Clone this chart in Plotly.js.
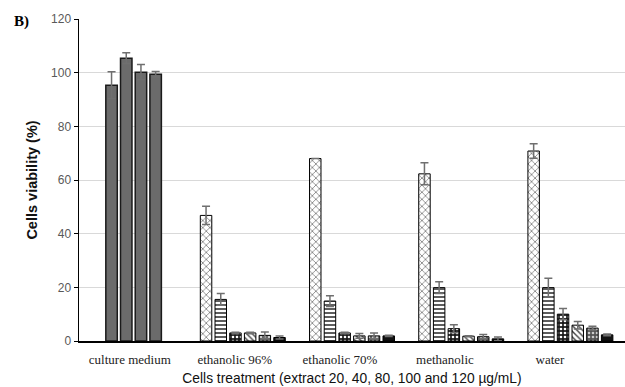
<!DOCTYPE html>
<html>
<head>
<meta charset="utf-8">
<script src="https://cdn.plot.ly/plotly-3.0.1.min.js"></script>
<style>html,body{margin:0;padding:0;background:#fff;}#chart{width:625px;height:387px;}</style>
</head>
<body>
<div id="chart"></div>
<script>
// ---- data ----
const categories = ["culture medium", "ethanolic 96%", "ethanolic 70%", "methanolic", "water"];
const controlValues = [95.3, 105.4, 100.2, 99.4];
const controlErrors = [5.0, 2.0, 2.8, 1.0];
// extract series (across the 4 extract categories)
const s1Values = [46.8, 68.0, 62.3, 70.8];
const s1Errors = [3.4, 0.0, 4.1, 2.7];
const s2Values = [15.5, 14.9, 19.9, 19.9];
const s2Errors = [2.2, 2.0, 2.2, 3.5];
const s3Values = [3.0, 3.0, 4.6, 10.0];
const s3Errors = [0.3, 0.3, 1.5, 2.1];
const s4Values = [3.0, 1.9, 1.8, 5.9];
const s4Errors = [0.3, 0.9, 0.2, 1.4];
const s5Values = [2.1, 1.9, 1.6, 4.8];
const s5Errors = [1.3, 1.1, 0.8, 0.7];
const s6Values = [1.3, 1.9, 0.8, 2.3];
const s6Errors = [0.6, 0.2, 0.7, 0.3];
const yTicks = [0, 20, 40, 60, 80, 100, 120];

// ---- layout helpers ----
const SLOT = 0.1346, BARW = 0.105;
const errStyle = {color: '#6f6f6f', thickness: 1.5, width: 4};
const lineStyle = {color: '#000', width: 1};

const traces = [];
controlValues.forEach((v, k) => {
  traces.push({
    type: 'bar', x: [0], y: [v],
    width: BARW, offset: (k - controlValues.length / 2) * SLOT + (SLOT - BARW) / 2,
    marker: {color: '#6b6b6b', line: {color: '#1a1a1a', width: 1.5}},
    error_y: Object.assign({type: 'data', array: [controlErrors[k]], visible: true}, errStyle),
    showlegend: false, hoverinfo: 'y'
  });
});

const extX = [1, 2, 3, 4];
const series = [
  {v: s1Values, e: s1Errors, p: {shape: 'x', bgcolor: '#fff', fgcolor: '#222', size: 5, solidity: 0.18}},
  {v: s2Values, e: s2Errors, p: {shape: '-', bgcolor: '#fff', fgcolor: '#333', size: 4, solidity: 0.4}},
  {v: s3Values, e: s3Errors, p: {shape: '.', bgcolor: '#1a1a1a', fgcolor: '#fff', size: 4, solidity: 0.35}},
  {v: s4Values, e: s4Errors, p: {shape: '\\', bgcolor: '#fff', fgcolor: '#444', size: 4, solidity: 0.35}},
  {v: s5Values, e: s5Errors, p: {shape: '.', bgcolor: '#555', fgcolor: '#ccc', size: 4, solidity: 0.35}},
  {v: s6Values, e: s6Errors, p: null}
];
series.forEach((s, k) => {
  const marker = {color: s.p ? '#fff' : '#111', line: lineStyle};
  if (s.p) marker.pattern = Object.assign({fillmode: 'replace'}, s.p);
  traces.push({
    type: 'bar', x: extX, y: s.v,
    width: BARW, offset: (k - series.length / 2) * SLOT + (SLOT - BARW) / 2,
    marker: marker,
    error_y: Object.assign({type: 'data', array: s.e, visible: true}, errStyle),
    showlegend: false, hoverinfo: 'y'
  });
});

const tickPos = categories.map((c, i) => i * 0.962 - 0.035);

const layout = {
  width: 625, height: 387,
  margin: {l: 79, r: 0, t: 19, b: 46},
  paper_bgcolor: '#fff', plot_bgcolor: '#fff',
  barmode: 'overlay',
  font: {family: 'Liberation Sans, Arial, sans-serif', color: '#333'},
  xaxis: {
    range: [-0.5, 4.5], showgrid: false, zeroline: false,
    showline: true, linecolor: '#000', linewidth: 1.5,
    tickvals: tickPos, ticktext: categories, ticks: '', ticklabelstandoff: 6,
    tickfont: {family: 'Liberation Serif, Times New Roman, serif', size: 13, color: '#222'},
    title: {text: 'Cells treatment (extract 20, 40, 80, 100 and 120 µg/mL)',
            font: {family: 'Liberation Sans, Arial, sans-serif', size: 13.8, color: '#111'}, standoff: 7}
  },
  yaxis: {
    range: [0, 120], tickvals: yTicks, showgrid: true, gridcolor: '#d9d9d9', gridwidth: 1,
    zeroline: false, showline: true, linecolor: '#000', linewidth: 1.5,
    ticks: 'outside', ticklen: 4, tickcolor: '#000', ticksuffix: '  ',
    tickfont: {family: 'Liberation Sans, Arial, sans-serif', size: 12, color: '#595959'},
    title: {text: '<b>Cells viability (%)</b>', font: {family: 'Liberation Sans, Arial, sans-serif', size: 14.5, color: '#111'}, standoff: 10}
  },
  annotations: [{
    text: '<b>B)</b>', xref: 'paper', yref: 'paper', x: -0.106, y: 0.992,
    xanchor: 'center', yanchor: 'middle', showarrow: false,
    font: {family: 'Liberation Serif, Times New Roman, serif', size: 15, color: '#000'}
  }]
};

Plotly.newPlot('chart', traces, layout, {displayModeBar: false, staticPlot: true});
</script>
</body>
</html>
